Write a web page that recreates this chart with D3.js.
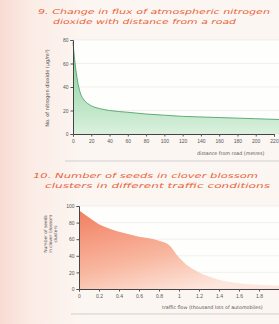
<!DOCTYPE html>
<html><head><meta charset="utf-8">
<script src="https://cdn.jsdelivr.net/npm/d3@7/dist/d3.min.js"></script>
<style>
html,body{margin:0;padding:0;background:#fbf4f1;}
svg{display:block;font-family:"DejaVu Sans",sans-serif;}
</style></head><body>
<script>
// Chart 9 data: distance from road (m) vs NO2
const dist = [0, 2, 5, 8, 12, 16, 20, 30, 40, 60, 80, 100, 120, 140, 160, 180, 200, 220, 240];
const no2  = [78, 62, 45, 35, 29, 26, 24, 21.5, 20, 18.5, 17, 16, 15, 14.5, 14, 13.5, 13, 12.5, 12];
const xTicks1 = [0,20,40,60,80,100,120,140,160,180,200,220];
const yTicks1 = [0,20,40,60,80];
// Chart 10 data: traffic flow vs seeds
const flow  = [0, 0.1, 0.2, 0.3, 0.4, 0.5, 0.6, 0.7, 0.8, 0.9, 1.0, 1.1, 1.2, 1.3, 1.4, 1.6, 1.8, 2.0];
const seeds = [95, 86, 78, 73, 69, 66, 63, 61, 58, 53, 38, 27, 20, 15, 11, 7, 5, 4];
const xTicks2 = [0,0.2,0.4,0.6,0.8,1,1.2,1.4,1.6,1.8,2];
const xLabels2 = [0,0.2,0.4,0.6,0.8,1,1.2,1.4,1.6,1.8];
const yTicks2 = [0,20,40,60,80,100];
const title1 = ["9. Change in flux of atmospheric nitrogen", "dioxide with distance from a road"];
const title2 = ["10. Number of seeds in clover blossom", "clusters in different traffic conditions"];

const W=279,H=324;
const svg=d3.select("body").append("svg").attr("width",W).attr("height",H);
const defs=svg.append("defs");
const bg=defs.append("linearGradient").attr("id","bg").attr("x1",0).attr("x2",1).attr("y1",0).attr("y2",0);
bg.append("stop").attr("offset",0).attr("stop-color","#f8dcd4");
bg.append("stop").attr("offset",0.12).attr("stop-color","#fbece6");
bg.append("stop").attr("offset",0.3).attr("stop-color","#fcf6f2");
svg.append("rect").attr("width",W).attr("height",H).attr("fill","url(#bg)");

const g1=defs.append("linearGradient").attr("id","g1").attr("x1",0).attr("x2",0).attr("y1",0).attr("y2",1);
g1.append("stop").attr("offset",0).attr("stop-color","#6cc585");
g1.append("stop").attr("offset",1).attr("stop-color","#d6efda");
const g2=defs.append("linearGradient").attr("id","g2").attr("x1",0).attr("x2",0.6).attr("y1",0).attr("y2",1);
g2.append("stop").attr("offset",0).attr("stop-color","#f07050");
g2.append("stop").attr("offset",0.6).attr("stop-color","#f8b096");
g2.append("stop").attr("offset",1).attr("stop-color","#fde4da");

function titles(lines,y,spans){
  lines.forEach((t,i)=>{
    svg.append("text").attr("x",spans[i][0]).attr("y",y+i*10).attr("fill","#e8643c").attr("font-size",6.8)
      .attr("font-style","italic").attr("textLength",spans[i][1]-spans[i][0]).attr("lengthAdjust","spacingAndGlyphs").text(t);
  });
}
titles(title1,14,[[38,270],[53,236]]);
titles(title2,178,[[33,258],[45,270]]);

function chart(o){
  const x=d3.scaleLinear().domain(o.xd).range(o.xr);
  const y=d3.scaleLinear().domain(o.yd).range(o.yr);
  svg.append("rect").attr("x",o.xr[0]).attr("y",o.yr[1]).attr("width",W-o.xr[0]).attr("height",o.yr[0]-o.yr[1]).attr("fill","#fefefd");
  svg.append("g").selectAll("line").data(o.yt).join("line")
    .attr("x1",o.xr[0]).attr("x2",W).attr("y1",d=>y(d)).attr("y2",d=>y(d)).attr("stroke","#e6e6e6").attr("stroke-width",0.6);
  const area=d3.area().x((d,i)=>x(o.xs[i])).y0(y(0)).y1((d,i)=>y(o.ys[i])).curve(d3.curveMonotoneX);
  svg.append("path").datum(o.ys).attr("d",area).attr("fill",o.fill).attr("opacity",0.9);
  if(o.line){
    const line=d3.line().x((d,i)=>x(o.xs[i])).y((d,i)=>y(o.ys[i])).curve(d3.curveMonotoneX);
    svg.append("path").datum(o.ys).attr("d",line).attr("fill","none").attr("stroke",o.line).attr("stroke-width",0.8);
  }
  const ya=svg.append("g").attr("transform",`translate(${o.xr[0]},0)`).call(d3.axisLeft(y).tickValues(o.yt).tickSize(2.5).tickPadding(2).tickFormat(d3.format("d")));
  const xa=svg.append("g").attr("transform",`translate(0,${o.yr[0]})`).call(d3.axisBottom(x).tickValues(o.xt).tickSize(2.5).tickPadding(3).tickFormat(o.xf));
  [ya,xa].forEach(a=>{a.selectAll("text").attr("font-size",5).attr("fill","#555");a.selectAll("line").attr("stroke","#555");a.select(".domain").attr("stroke","#444").attr("stroke-width",1);});
  svg.append("text").attr("x",o.xlx).attr("y",o.xly).attr("font-size",4.8).attr("fill","#555").text(o.xlabel);
  o.ylabel.forEach((t,i)=>{
    svg.append("text").attr("transform",`translate(${o.ylx+i*5},${o.yly}) rotate(-90)`).attr("text-anchor","middle").attr("font-size",o.yfs).attr("fill","#555").text(t);
  });
  svg.append("line").attr("x1",o.xr[0]-8).attr("x2",W).attr("y1",o.sep).attr("y2",o.sep).attr("stroke","#cfcfcf").attr("stroke-width",1);
}

chart({xd:[0,220],xr:[73,274],yd:[0,80],yr:[134,40],xs:dist,ys:no2,xt:xTicks1,yt:yTicks1,fill:"url(#g1)",line:"#3f9a5a",
  xf:d3.format("d"),xlabel:"distance from road (metres)",xlx:197,xly:155,ylabel:["No. of nitrogen dioxide (µg/m³)"],ylx:49,yly:88,yfs:5,sep:161});
chart({xd:[0,2],xr:[79,279],yd:[0,100],yr:[289,206],xs:flow,ys:seeds,xt:xTicks2,yt:yTicks2,fill:"url(#g2)",line:null,
  xf:d=>xLabels2.includes(d)?String(d):"",xlabel:"traffic flow (thousand lots of automobiles)",xlx:162,xly:309,
  ylabel:["Number of seeds","in clover blossom","clusters"],ylx:47,yly:234,yfs:4.4,sep:314});
</script>
</body></html>
